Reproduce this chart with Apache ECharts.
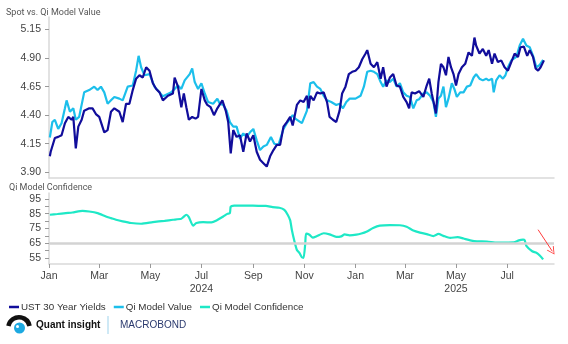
<!DOCTYPE html>
<html><head><meta charset="utf-8">
<script src="https://cdn.jsdelivr.net/npm/echarts@6/dist/echarts.min.js"></script>
<style>html,body{margin:0;padding:0;background:#fff}#c{width:568px;height:344px}</style>
</head><body><div id="c"></div>
<script>
const ustDates = ['2024-01-02','2024-01-03','2024-01-08','2024-01-12','2024-01-16','2024-01-20','2024-01-24','2024-01-28','2024-01-30','2024-02-02','2024-02-05','2024-02-09','2024-02-12','2024-02-18','2024-02-22','2024-02-26','2024-03-01','2024-03-07','2024-03-11','2024-03-15','2024-03-19','2024-03-25','2024-03-29','2024-04-02','2024-04-06','2024-04-10','2024-04-14','2024-04-18','2024-04-22','2024-04-26','2024-04-30','2024-05-04','2024-05-08','2024-05-12','2024-05-16','2024-05-22','2024-05-28','2024-05-30','2024-06-03','2024-06-07','2024-06-10','2024-06-13','2024-06-16','2024-06-20','2024-06-24','2024-06-27','2024-07-01','2024-07-05','2024-07-08','2024-07-12','2024-07-16','2024-07-20','2024-07-26','2024-07-30','2024-08-02','2024-08-05','2024-08-08','2024-08-12','2024-08-16','2024-08-20','2024-08-24','2024-08-28','2024-09-01','2024-09-05','2024-09-09','2024-09-13','2024-09-17','2024-09-21','2024-09-25','2024-09-29','2024-10-03','2024-10-07','2024-10-11','2024-10-15','2024-10-18','2024-10-23','2024-10-27','2024-10-31','2024-11-04','2024-11-06','2024-11-08','2024-11-12','2024-11-16','2024-11-20','2024-11-24','2024-11-28','2024-12-01','2024-12-05','2024-12-09','2024-12-13','2024-12-16','2024-12-20','2024-12-24','2024-12-28','2025-01-01','2025-01-05','2025-01-09','2025-01-13','2025-01-15','2025-01-19','2025-01-23','2025-01-27','2025-01-31','2025-02-03','2025-02-07','2025-02-11','2025-02-15','2025-02-19','2025-02-23','2025-02-27','2025-03-03','2025-03-06','2025-03-09','2025-03-13','2025-03-18','2025-03-23','2025-03-27','2025-03-30','2025-04-02','2025-04-05','2025-04-07','2025-04-10','2025-04-13','2025-04-16','2025-04-19','2025-04-22','2025-04-25','2025-04-28','2025-05-01','2025-05-04','2025-05-08','2025-05-12','2025-05-16','2025-05-20','2025-05-23','2025-05-25','2025-05-29','2025-06-02','2025-06-06','2025-06-09','2025-06-13','2025-06-16','2025-06-20','2025-06-24','2025-06-28','2025-07-02','2025-07-06','2025-07-10','2025-07-14','2025-07-17','2025-07-21','2025-07-25','2025-07-28','2025-08-01','2025-08-04','2025-08-07','2025-08-10','2025-08-14'];
const ustValues = [4.04,4.08,4.20,4.21,4.225,4.33,4.385,4.36,4.385,4.11,4.30,4.36,4.44,4.46,4.46,4.41,4.385,4.25,4.27,4.43,4.46,4.43,4.34,4.50,4.50,4.62,4.72,4.75,4.73,4.82,4.79,4.68,4.63,4.60,4.53,4.57,4.59,4.73,4.65,4.47,4.59,4.47,4.36,4.385,4.37,4.385,4.63,4.53,4.49,4.47,4.40,4.46,4.53,4.44,4.34,4.065,4.27,4.21,4.225,4.08,4.24,4.17,4.225,4.08,4.01,3.98,3.95,4.04,4.095,4.14,4.14,4.30,4.34,4.385,4.31,4.49,4.53,4.515,4.57,4.46,4.57,4.53,4.60,4.59,4.60,4.515,4.385,4.36,4.34,4.44,4.59,4.65,4.76,4.78,4.79,4.82,4.89,4.94,4.97,4.85,4.82,4.865,4.72,4.82,4.65,4.73,4.76,4.66,4.65,4.56,4.515,4.46,4.60,4.59,4.61,4.56,4.66,4.72,4.59,4.49,4.415,4.69,4.85,4.82,4.75,4.91,4.82,4.76,4.66,4.76,4.82,4.85,4.95,4.92,5.08,5.01,4.94,4.98,4.92,4.97,4.85,4.94,4.865,4.88,4.82,4.79,4.865,4.94,4.91,4.995,5.00,4.92,4.97,4.91,4.81,4.79,4.82,4.88];

const qiDates = ['2024-01-02','2024-01-05','2024-01-08','2024-01-12','2024-01-16','2024-01-20','2024-01-22','2024-01-26','2024-01-30','2024-02-02','2024-02-06','2024-02-12','2024-02-18','2024-02-24','2024-02-28','2024-03-03','2024-03-07','2024-03-11','2024-03-15','2024-03-19','2024-03-25','2024-03-29','2024-04-04','2024-04-10','2024-04-14','2024-04-17','2024-04-20','2024-04-24','2024-04-30','2024-05-06','2024-05-12','2024-05-16','2024-05-23','2024-05-26','2024-06-03','2024-06-07','2024-06-11','2024-06-17','2024-06-20','2024-06-23','2024-06-27','2024-07-01','2024-07-05','2024-07-09','2024-07-15','2024-07-20','2024-07-23','2024-07-27','2024-07-31','2024-08-04','2024-08-08','2024-08-12','2024-08-16','2024-08-20','2024-08-24','2024-08-28','2024-09-01','2024-09-05','2024-09-09','2024-09-13','2024-09-17','2024-09-22','2024-09-26','2024-10-01','2024-10-07','2024-10-11','2024-10-15','2024-10-18','2024-10-21','2024-10-29','2024-11-04','2024-11-08','2024-11-12','2024-11-16','2024-11-20','2024-11-24','2024-11-28','2024-12-03','2024-12-09','2024-12-13','2024-12-17','2024-12-21','2024-12-25','2025-01-01','2025-01-07','2025-01-11','2025-01-15','2025-01-19','2025-01-23','2025-01-27','2025-01-31','2025-02-03','2025-02-07','2025-02-11','2025-02-15','2025-02-19','2025-02-23','2025-02-27','2025-03-03','2025-03-07','2025-03-11','2025-03-15','2025-03-18','2025-03-23','2025-03-27','2025-03-31','2025-04-04','2025-04-07','2025-04-10','2025-04-13','2025-04-16','2025-04-19','2025-04-22','2025-04-26','2025-04-29','2025-05-02','2025-05-06','2025-05-10','2025-05-14','2025-05-18','2025-05-22','2025-05-25','2025-05-29','2025-06-02','2025-06-06','2025-06-09','2025-06-13','2025-06-15','2025-06-18','2025-06-22','2025-06-26','2025-06-29','2025-07-02','2025-07-06','2025-07-12','2025-07-16','2025-07-20','2025-07-24','2025-07-28','2025-08-01','2025-08-05','2025-08-09','2025-08-13'];
const qiValues = [4.205,4.34,4.36,4.28,4.33,4.46,4.53,4.43,4.46,4.36,4.385,4.60,4.62,4.65,4.62,4.65,4.60,4.50,4.53,4.56,4.545,4.53,4.65,4.66,4.79,4.92,4.82,4.75,4.76,4.65,4.60,4.565,4.59,4.60,4.66,4.63,4.705,4.76,4.81,4.69,4.63,4.68,4.59,4.515,4.50,4.545,4.50,4.49,4.44,4.34,4.30,4.30,4.195,4.24,4.21,4.25,4.28,4.18,4.095,4.125,4.14,4.21,4.15,4.14,4.28,4.33,4.37,4.40,4.37,4.33,4.44,4.68,4.69,4.65,4.63,4.57,4.53,4.515,4.49,4.50,4.46,4.515,4.545,4.545,4.57,4.65,4.78,4.79,4.78,4.76,4.69,4.65,4.705,4.69,4.72,4.65,4.68,4.60,4.57,4.56,4.46,4.53,4.54,4.59,4.60,4.57,4.515,4.385,4.545,4.57,4.65,4.47,4.545,4.68,4.63,4.56,4.60,4.60,4.65,4.66,4.73,4.76,4.72,4.705,4.72,4.705,4.72,4.60,4.705,4.75,4.72,4.75,4.82,4.88,4.91,5.01,5.07,5.01,4.995,4.92,4.82,4.84,4.885];

const confDates = ['2024-01-02','2024-01-11','2024-01-21','2024-01-29','2024-02-10','2024-02-18','2024-02-28','2024-03-09','2024-03-15','2024-03-21','2024-03-29','2024-04-08','2024-04-20','2024-05-04','2024-05-18','2024-05-28','2024-06-07','2024-06-09','2024-06-13','2024-06-16','2024-06-21','2024-06-25','2024-07-03','2024-07-13','2024-07-19','2024-07-27','2024-08-01','2024-08-04','2024-08-05','2024-08-09','2024-08-24','2024-09-08','2024-09-16','2024-09-24','2024-10-02','2024-10-08','2024-10-12','2024-10-15','2024-10-17','2024-10-20','2024-10-23','2024-10-26','2024-10-29','2024-10-31','2024-11-02','2024-11-03','2024-11-07','2024-11-11','2024-11-16','2024-11-24','2024-12-01','2024-12-09','2024-12-15','2024-12-19','2024-12-25','2025-01-02','2025-01-08','2025-01-14','2025-01-22','2025-01-30','2025-02-11','2025-02-23','2025-03-03','2025-03-11','2025-03-19','2025-03-27','2025-04-04','2025-04-10','2025-04-16','2025-04-24','2025-05-03','2025-05-10','2025-05-18','2025-05-26','2025-06-07','2025-06-19','2025-07-01','2025-07-09','2025-07-15','2025-07-20','2025-07-22','2025-07-24','2025-07-31','2025-08-05','2025-08-09','2025-08-13'];
const confValues = [84.3,84.8,85.4,85.8,86.9,86.5,85.4,83.1,82.0,80.9,79.8,78.7,78.2,79.3,80.2,80.9,81.6,82.5,84.3,82.7,76.9,78.7,79.3,79.1,80.4,83.1,84.9,85.4,89.8,90.5,90.5,90.3,90.3,89.4,89.0,87.6,84.3,80.5,74.0,66.5,60.5,58.5,55.5,55.2,65.0,71.5,70.8,68.8,69.9,71.8,71.0,69.3,69.7,71.0,70.4,70.8,71.6,72.8,75.3,76.9,77.3,77.2,76.2,73.6,72.2,71.2,69.9,71.3,70.0,68.6,69.2,68.2,67.0,66.3,66.2,65.4,65.5,65.6,67.0,67.5,67.0,63.2,59.6,58.6,56.8,54.1];

const topTickValues = [3.90, 4.15, 4.40, 4.65, 4.90, 5.15];
const confLabelValues = [55, 65, 75, 85, 95];
const confTickValues = [55, 60, 65, 70, 75, 80, 85, 90, 95];
const monthTicks = ['2024-01-01','2024-03-01','2024-05-01','2024-07-01','2024-09-01','2024-11-01','2025-01-01','2025-03-01','2025-05-01','2025-07-01'];
const monthNames = ['Jan','Feb','Mar','Apr','May','Jun','Jul','Aug','Sep','Oct','Nov','Dec'];
const yearLabels = {'2024-07-01': '2024', '2025-05-01': '2025'};
const confidenceThreshold = 65;
const arrowFrom = ['2025-08-07', 74.2];
const arrowTo = ['2025-08-24', 59.6];
const xMin = '2024-01-01', xMax = '2025-08-26';

const C_UST = '#110d9b', C_QI = '#1cbfeb', C_CONF = '#1ee8c6';
const FONT = '"Liberation Sans", Arial, sans-serif';
const ts = d => new Date(d + 'T00:00:00Z').getTime();
const pairs = (ds, vs) => ds.map((d, i) => [ts(d), vs[i]]);
const monthTs = monthTicks.map(ts);
const yearByTs = {}; Object.keys(yearLabels).forEach(k => yearByTs[ts(k)] = yearLabels[k]);

const axisGray = '#d9d9d9';
const chart = echarts.init(document.getElementById('c'), null, {renderer: 'canvas'});
chart.setOption({
  animation: false,
  textStyle: {fontFamily: FONT},
  grid: [
    {left: 49, right: 14, top: 17, height: 161, outerBoundsMode: 'none'},
    {left: 49, right: 14, top: 193, height: 71, outerBoundsMode: 'none'}
  ],
  title: [
    {text: 'Spot vs. Qi Model Value', left: 1, top: 3, textStyle: {fontSize: 9, fontWeight: 'normal', color: '#555', fontFamily: 'Roboto'}},
    {text: 'Qi Model Confidence', left: 4, top: 178, textStyle: {fontSize: 9, fontWeight: 'normal', color: '#555', fontFamily: 'Roboto'}}
  ],
  legend: {
    left: 4, top: 297, icon: 'rect', itemWidth: 10, itemHeight: 2.5, itemGap: 8,
    textStyle: {fontSize: 9.8, color: '#333', fontFamily: FONT, padding: [0, 0, 0, -3]},
    data: ['UST 30 Year Yields', 'Qi Model Value', 'Qi Model Confidence']
  },
  xAxis: [
    {type: 'value', gridIndex: 0, min: ts(xMin), max: ts(xMax),
     axisLine: {show: true, lineStyle: {color: axisGray, width: 1.5}},
     axisTick: {show: false}, axisLabel: {show: false}, splitLine: {show: false}},
    {type: 'value', gridIndex: 1, min: ts(xMin), max: ts(xMax),
     axisLine: {show: true, lineStyle: {color: axisGray, width: 1.5}},
     axisTick: {show: true, customValues: monthTs, length: 4, lineStyle: {color: '#999'}},
     axisLabel: {show: true, customValues: monthTs, fontSize: 10.5, color: '#444', margin: 6, lineHeight: 13,
       formatter: v => { const d = new Date(v); let s = monthNames[d.getUTCMonth()]; if (yearByTs[v]) s += '\n' + yearByTs[v]; return s; }},
     splitLine: {show: false}}
  ],
  yAxis: [
    {type: 'value', gridIndex: 0, min: 3.85, max: 5.26,
     axisLine: {show: true, lineStyle: {color: axisGray, width: 1.5}},
     axisTick: {show: true, customValues: topTickValues, length: 4, lineStyle: {color: '#999'}},
     axisLabel: {customValues: topTickValues, fontSize: 10.5, color: '#444', margin: 8, formatter: v => v.toFixed(2)},
     splitLine: {show: false}},
    {type: 'value', gridIndex: 1, min: 51, max: 99,
     axisLine: {show: true, lineStyle: {color: axisGray, width: 1.5}},
     axisTick: {show: true, customValues: confTickValues, length: 4, lineStyle: {color: '#999'}},
     axisLabel: {customValues: confLabelValues, fontSize: 10.5, color: '#444', margin: 8},
     splitLine: {show: false}}
  ],
  series: [
    {name: 'Qi Model Value', type: 'line', xAxisIndex: 0, yAxisIndex: 0, data: pairs(qiDates, qiValues),
     showSymbol: false, lineStyle: {color: C_QI, width: 2.2}, itemStyle: {color: C_QI}, z: 2},
    {name: 'UST 30 Year Yields', type: 'line', xAxisIndex: 0, yAxisIndex: 0, data: pairs(ustDates, ustValues),
     showSymbol: false, lineStyle: {color: C_UST, width: 2.2}, itemStyle: {color: C_UST}, z: 3},
    {name: 'Qi Model Confidence', type: 'line', xAxisIndex: 1, yAxisIndex: 1, data: pairs(confDates, confValues),
     showSymbol: false, smooth: 0.2, lineStyle: {color: C_CONF, width: 2.2}, itemStyle: {color: C_CONF}, z: 3,
     markLine: {silent: true, animation: false, label: {show: false}, symbol: ['none', 'none'],
       data: [
         {yAxis: confidenceThreshold, lineStyle: {color: '#d3d3d3', width: 2.5, type: 'solid'}},
         [{coord: [ts(arrowFrom[0]), arrowFrom[1]], symbol: 'none'},
          {coord: [ts(arrowTo[0]), arrowTo[1]], symbol: 'path://M0,10 L5,0 L10,10 L9,10.6 L5,2.2 L1,10.6 Z', symbolSize: [8, 8],
           itemStyle: {color: '#ff3b3b'}, lineStyle: {color: '#ff3b3b', width: 1, type: 'solid'}}]
       ]}}
  ],
  graphic: [
    {type: 'sector', shape: {cx: 19, cy: 328, r: 13, r0: 8.5, startAngle: Math.PI * 1.06, endAngle: Math.PI * 1.94}, style: {fill: '#111'}},
    {type: 'circle', shape: {cx: 19.5, cy: 328, r: 5.5}, style: {fill: '#1ca9e1'}},
    {type: 'circle', shape: {cx: 17.5, cy: 326.5, r: 1.5}, style: {fill: '#fff'}},
    {type: 'text', left: 36, top: 320, style: {text: 'Quant insight', fontSize: 10, fontWeight: 'bold', fill: '#111', fontFamily: FONT, letterSpacing: -0.3}},
    {type: 'line', shape: {x1: 108, y1: 316, x2: 108, y2: 334}, style: {stroke: '#9fd3ec', lineWidth: 1}},
    {type: 'text', left: 120, top: 320, style: {text: 'MACROBOND', fontSize: 10, fill: '#2b3a6e', fontFamily: FONT}}
  ]
});
</script></body></html>
